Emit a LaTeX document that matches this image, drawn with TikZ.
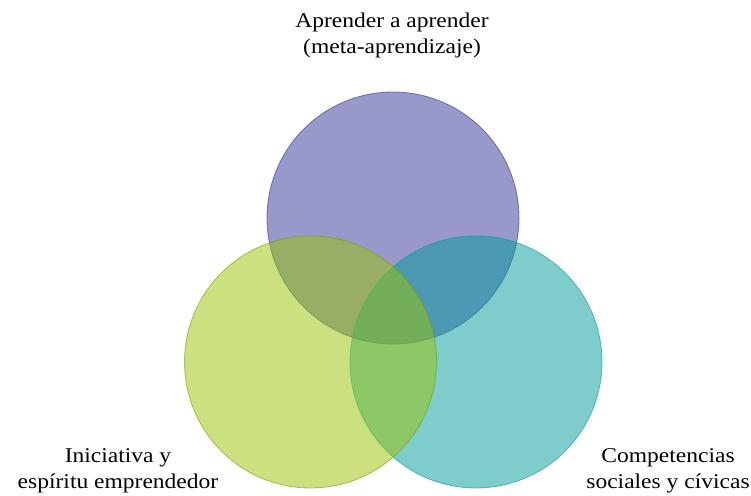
\documentclass[tikz,border=0pt]{standalone}
\usepackage{fontspec}
\setmainfont[FakeStretch=1.12]{Liberation Serif}
\definecolor{cpurple}{RGB}{51,51,153}
\definecolor{cgreen}{RGB}{153,197,0}
\definecolor{cteal}{RGB}{0,155,155}
\tikzset{
  venn/.style={circle, minimum size=252pt, inner sep=0pt, fill opacity=0.5, draw opacity=0.6, line width=0.8pt},
  lbl/.style={align=center, font=\fontsize{21}{26}\selectfont, text=black, inner sep=0pt}
}
\begin{document}
\begin{tikzpicture}[x=1pt,y=1pt]
\useasboundingbox (0,0) rectangle (751,495);
\fill[white] (0,0) rectangle (751,495);
\node[venn, fill=cpurple, draw=cpurple] (top) at (393,277) {};
\node[venn, fill=cteal, draw=cteal] (right) at (476,133) {};
\node[venn, fill=cgreen, draw=cgreen!80!black] (left) at (310.5,133) {};
\node[lbl] (ttop) at (392,460) {Aprender a aprender\\(meta-aprendizaje)};
\node[lbl] (tleft) at (118,024) {Iniciativa y\\espíritu emprendedor};
\node[lbl] (tright) at (668,024) {Competencias\\sociales y cívicas};
\end{tikzpicture}
\end{document}
